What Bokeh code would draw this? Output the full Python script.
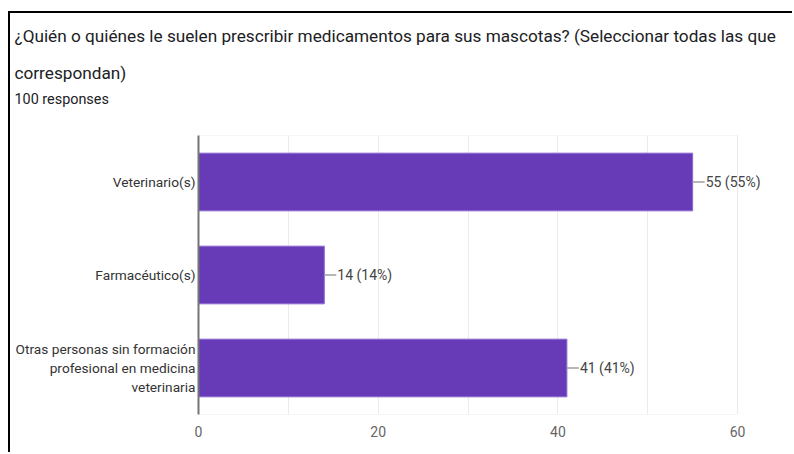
from bokeh.plotting import figure
from bokeh.models import FixedTicker, LabelSet, ColumnDataSource, Range1d, Title
from bokeh.core.properties import value
from bokeh.embed import file_html
from bokeh.resources import INLINE

categories = ["Veterinario(s)", "Farmacéutico(s)",
              "Otras personas sin formación\nprofesional en medicina\nveterinaria"]
counts = [55, 14, 41]
percents = [55, 14, 41]
x_ticks = [0, 20, 40, 60]
x_grid = [0, 10, 20, 30, 40, 50, 60]

title_line1 = "¿Quién o quiénes le suelen prescribir medicamentos para sus mascotas? (Seleccionar todas las que"
title_line2 = "correspondan)"
subtitle = "100 responses"

# vertical slot of each category (top to bottom)
y_pos = [2, 1, 0]
y_lo, y_hi = -0.5, 2.5
x_lo, x_hi = 0, 66  # extra room on the right for the value labels

labels = [f"{c} ({p}%)" for c, p in zip(counts, percents)]
src = ColumnDataSource(dict(y=y_pos, x=counts, label=labels))

p = figure(width=784, height=441, output_backend="svg", toolbar_location=None,
           y_range=Range1d(y_lo, y_hi), x_range=Range1d(x_lo, x_hi),
           min_border_left=188, min_border_right=3, min_border_bottom=40, min_border_top=122)
p.styles = {"border-left": "2px solid black", "border-top": "2px solid black"}
p.margin = (11, 0, 0, 8)

# titles, stacked upward from the plot frame
p.add_layout(Title(text=" ", text_font_size="10px", standoff=15), "above")
p.add_layout(Title(text=subtitle, text_font="Roboto", text_font_size="14.4px", text_font_style="normal",
                   text_color="#202124", align="left", offset=-184, standoff=0), "above")
p.add_layout(Title(text=title_line2, text_font="Roboto", text_font_size="17.2px", text_font_style="normal",
                   text_color="#202124", align="left", offset=-184, standoff=11.2), "above")
p.add_layout(Title(text=title_line1, text_font="Roboto", text_font_size="17.2px", text_font_style="normal",
                   text_color="#202124", align="left", offset=-184, standoff=18.5), "above")

# plot-area border
p.quad(left=[x_ticks[0]], right=[x_ticks[-1]], bottom=[y_lo], top=[y_hi],
       fill_color=None, line_color="#ebebeb", line_width=1)

p.hbar(y="y", right="x", left=0, height=0.62, source=src,
       fill_color="#673ab7", line_color="#8a68cf", line_width=1)
p.ray(x="x", y="y", length=12, length_units="screen", angle=0, source=src,
      line_color="#9e9e9e", line_width=1.5)
p.add_layout(LabelSet(x="x", y="y", text="label", source=src, x_offset=13,
                      text_baseline="middle", text_align="left",
                      text_font_size="14px", text_font=value("Roboto"), text_color="#444444"))

p.xaxis.ticker = FixedTicker(ticks=x_ticks)
p.xgrid.ticker = FixedTicker(ticks=x_grid)
p.xgrid.grid_line_color = "#ebebeb"
p.ygrid.grid_line_color = None
p.xaxis.axis_line_color = None
p.xaxis.major_tick_line_color = None
p.xaxis.minor_tick_line_color = None
p.xaxis.major_tick_out = 0
p.xaxis.major_label_text_font = "Roboto"
p.xaxis.major_label_text_font_size = "14px"
p.xaxis.major_label_text_color = "#666666"
p.xaxis.major_label_standoff = 11

p.yaxis.ticker = FixedTicker(ticks=y_pos)
p.yaxis.major_label_overrides = {yv: c for yv, c in zip(y_pos, categories)}
p.yaxis.axis_line_color = "#757575"
p.yaxis.axis_line_width = 2
p.yaxis.major_tick_line_color = None
p.yaxis.minor_tick_line_color = None
p.yaxis.major_tick_out = 0
p.yaxis.major_label_text_font = "Roboto"
p.yaxis.major_label_text_font_size = "13.7px"
p.yaxis.major_label_text_color = "#333333"
p.yaxis.major_label_standoff = 3

p.outline_line_color = None
p.background_fill_color = "white"
p.border_fill_color = "white"

open("out.html", "w").write(file_html(p, INLINE))
